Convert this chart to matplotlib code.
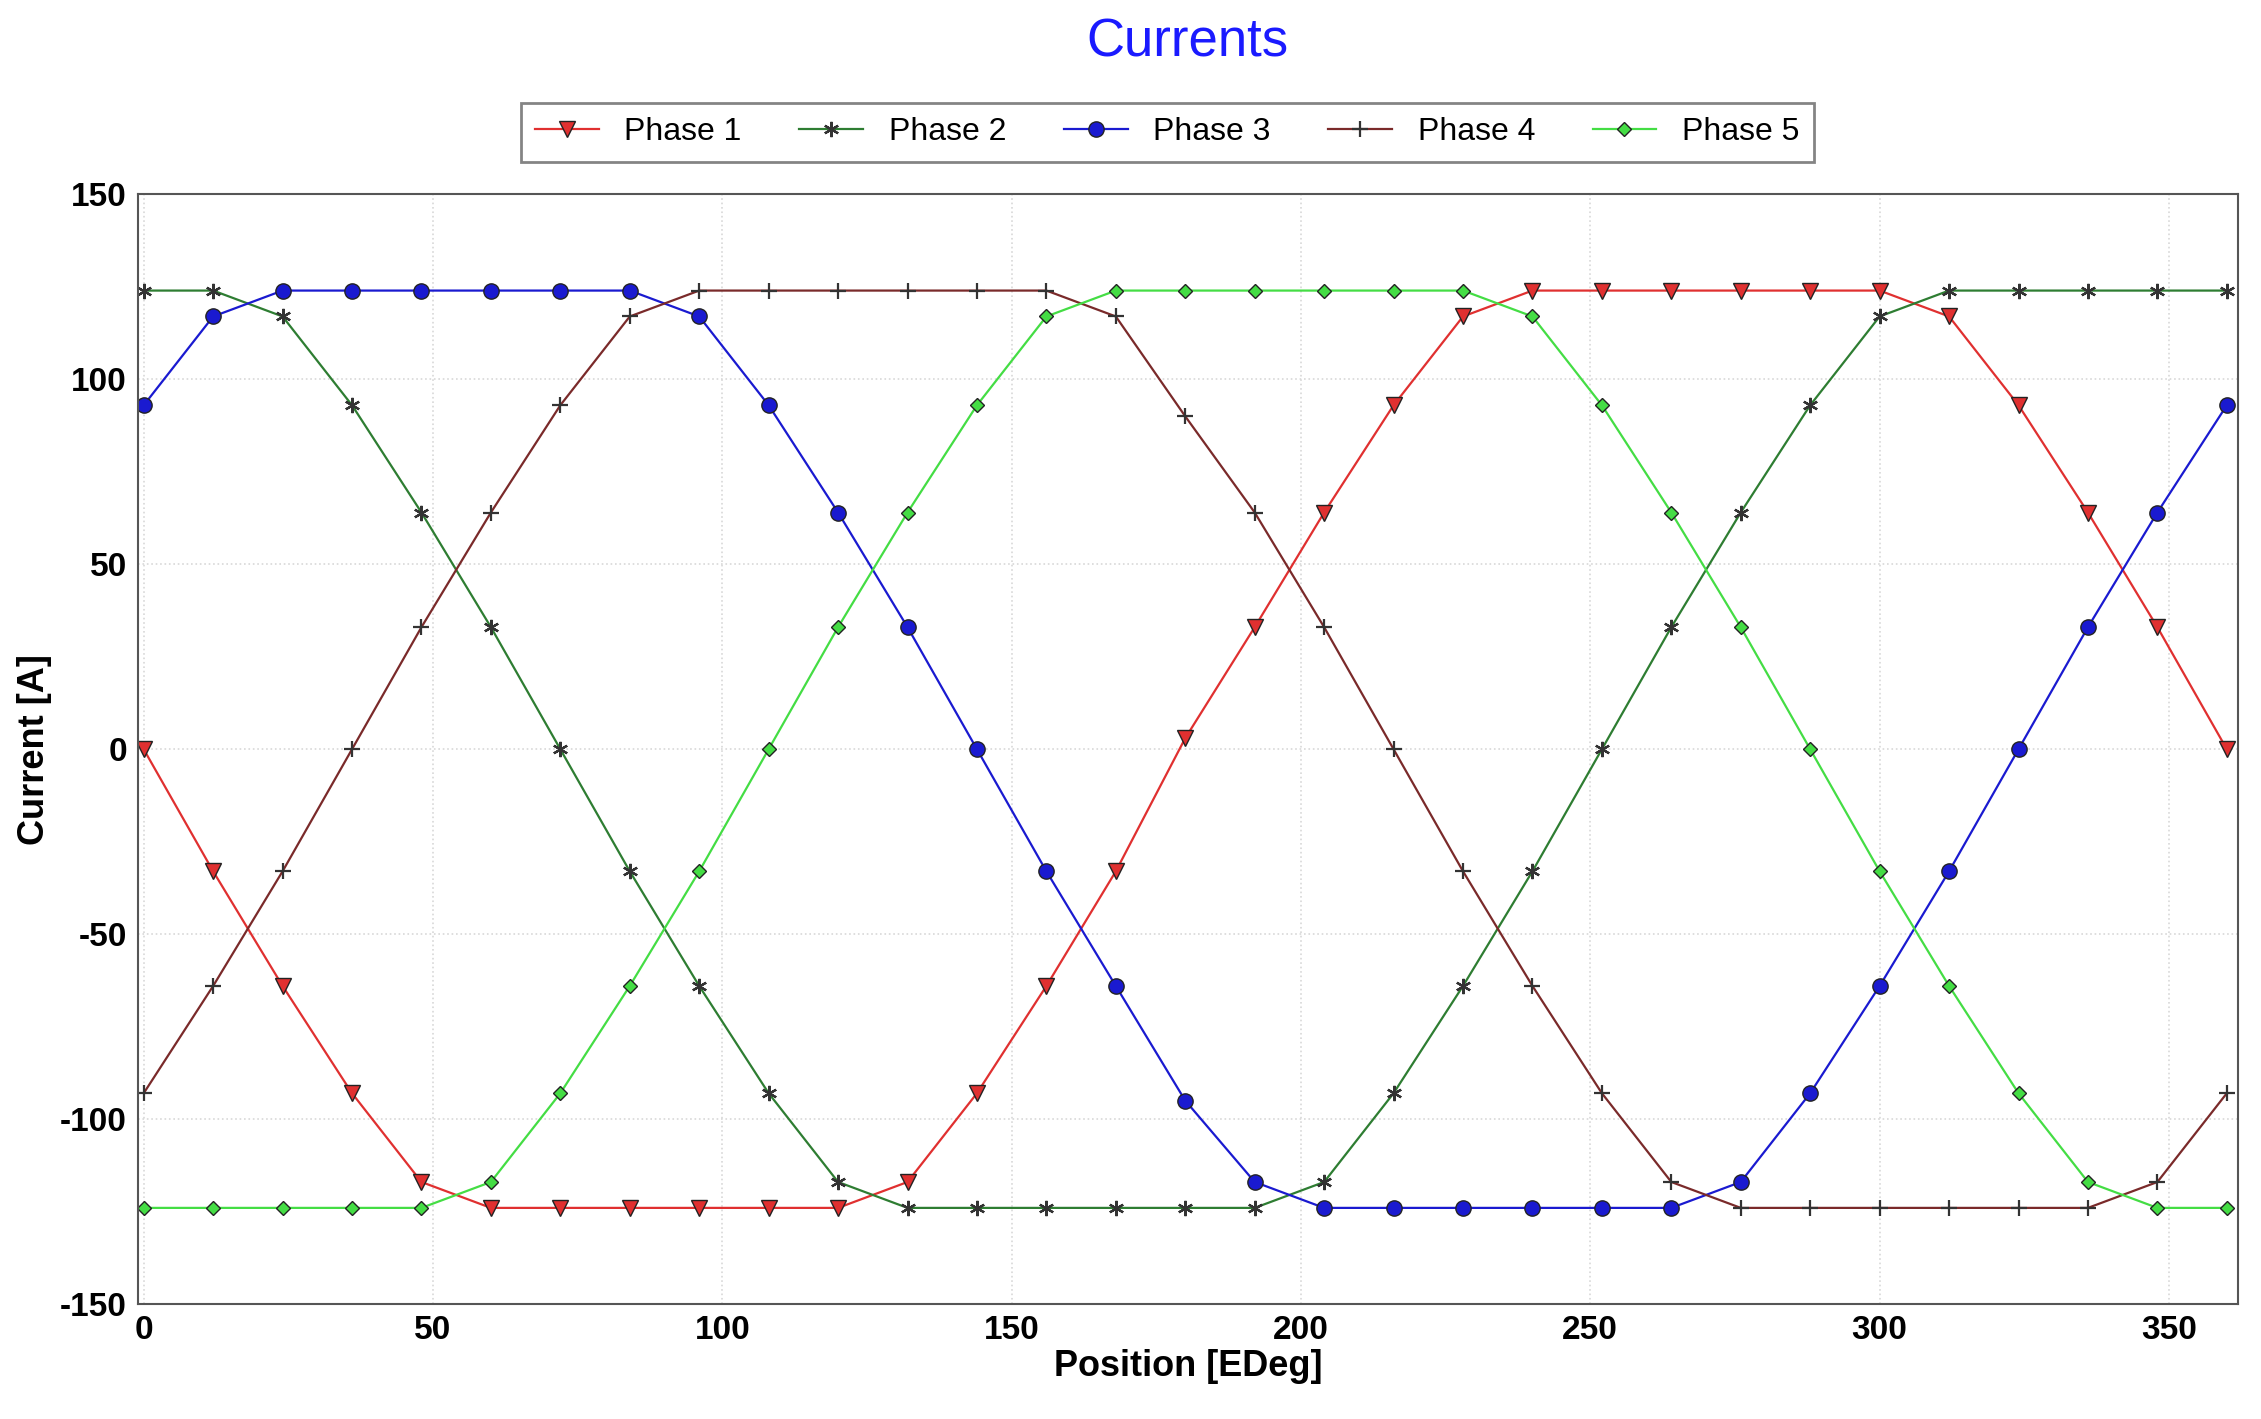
import numpy as np
import matplotlib.pyplot as plt

plt.rcParams["font.family"] = ["Liberation Sans", "DejaVu Sans"]
plt.rcParams["axes.unicode_minus"] = False

position = list(range(0, 361, 12))

phase1 = [0, -33, -64, -93, -117, -124, -124, -124, -124, -124, -124, -117, -93, -64, -33, 3,
          33, 64, 93, 117, 124, 124, 124, 124, 124, 124, 117, 93, 64, 33, 0]
phase2 = [124, 124, 117, 93, 64, 33, 0, -33, -64, -93, -117, -124, -124, -124, -124, -124,
          -124, -117, -93, -64, -33, 0, 33, 64, 93, 117, 124, 124, 124, 124, 124]
phase3 = [93, 117, 124, 124, 124, 124, 124, 124, 117, 93, 64, 33, 0, -33, -64, -95,
          -117, -124, -124, -124, -124, -124, -124, -117, -93, -64, -33, 0, 33, 64, 93]
phase4 = [-93, -64, -33, 0, 33, 64, 93, 117, 124, 124, 124, 124, 124, 124, 117, 90,
          64, 33, 0, -33, -64, -93, -117, -124, -124, -124, -124, -124, -124, -117, -93]
phase5 = [-124, -124, -124, -124, -124, -117, -93, -64, -33, 0, 33, 64, 93, 117, 124, 124,
          124, 124, 124, 124, 117, 93, 64, 33, 0, -33, -64, -93, -117, -124, -124]

series = [
    ("Phase 1", phase1, "#e03030", "v", "#e03030"),
    ("Phase 2", phase2, "#2e7d32", (6, 2, 0), "#333333"),
    ("Phase 3", phase3, "#1a1ad0", "o", "#1a1ad0"),
    ("Phase 4", phase4, "#7a2a2a", "+", "#333333"),
    ("Phase 5", phase5, "#44dd44", "D", "#44dd44"),
]

fig = plt.figure(figsize=(22.61, 14.19), dpi=100)
ax = fig.add_axes([0.061, 0.081, 0.929, 0.782])

for name, vals, color, marker, mfc in series:
    ms = 11 if marker != "D" else 7.5
    filled = marker in ("v", "o", "D")
    ax.plot(position, vals, color=color, lw=1.6, marker=marker, ms=ms,
            mfc=mfc, mec="#222222" if filled else "#333333",
            mew=1.0 if filled else 1.6, label=name)

ax.set_xlim(-1, 362)
ax.set_ylim(-150, 150)
ax.set_xticks(range(0, 351, 50))
ax.set_yticks(range(-150, 151, 50))
ax.grid(True, color="#d8d8d8", ls=":", lw=1.2)
ax.tick_params(labelsize=24, length=0, pad=8)
for lab in ax.get_xticklabels() + ax.get_yticklabels():
    lab.set_fontweight("bold")
ax.set_xlabel("Position [EDeg]", fontsize=26, fontweight="bold", labelpad=2)
ax.set_ylabel("Current [A]", fontsize=26, fontweight="bold", labelpad=6)
for s in ax.spines.values():
    s.set_color("#555555")
    s.set_linewidth(1.5)

fig.text(0.525, 0.97, "Currents", color="#1a1aff", fontsize=38, ha="center", va="center")
leg = ax.legend(loc="lower center", bbox_to_anchor=(0.49, 1.015), ncol=5, fontsize=23,
                frameon=True, fancybox=False, edgecolor="#666666", handlelength=2.0,
                columnspacing=1.8, borderpad=0.45)
leg.get_frame().set_linewidth(2)

fig.savefig("out.png", dpi=100)
